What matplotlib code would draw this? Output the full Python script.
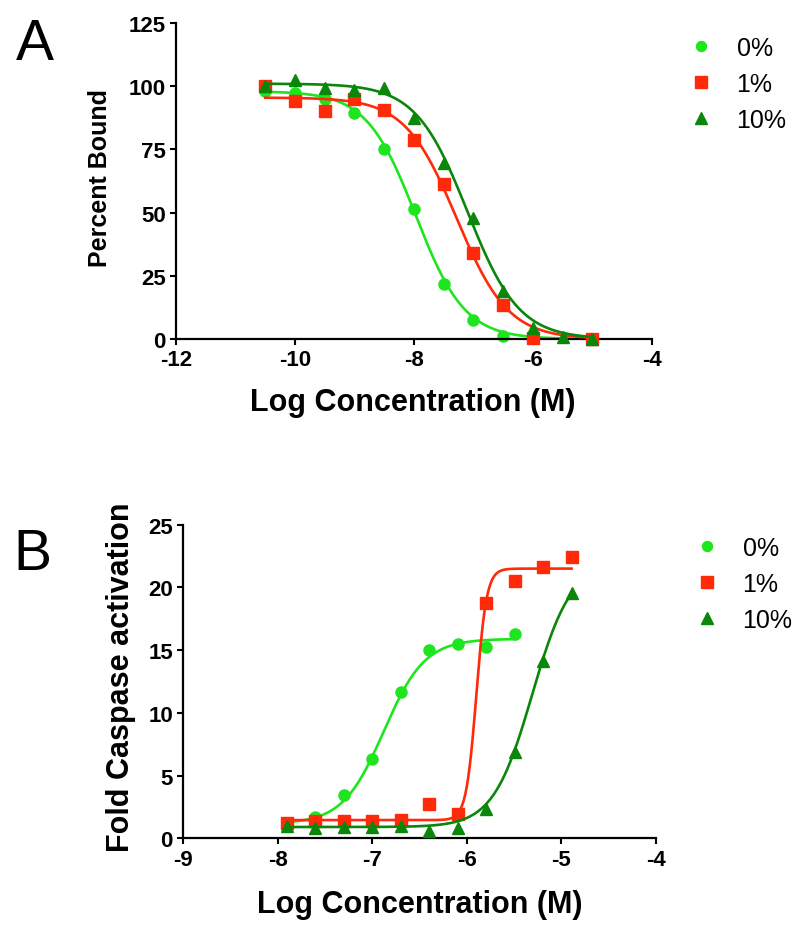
import numpy as np
import matplotlib.pyplot as plt
from matplotlib.lines import Line2D

plt.rcParams['font.family'] = ['Liberation Sans', 'DejaVu Sans']
plt.rcParams['axes.unicode_minus'] = False

labels = ['0%', '1%', '10%']
colors = ['#1EE61E', '#FF2A0A', '#0A870A']
markers = ['o', 's', '^']
msizes = [8.0, 8.8, 9.2]

# Panel A: percent bound vs log concentration
a_x_0 = [-10.5, -10, -9.5, -9, -8.5, -8, -7.5, -7, -6.5, -6, -5]
a_y_0 = [98.0, 97.3, 94.9, 89.3, 75.0, 51.5, 21.7, 7.4, 1.2, 0.2, 0.0]
a_x_1 = [-10.5, -10, -9.5, -9, -8.5, -8, -7.5, -7, -6.5, -6, -5]
a_y_1 = [100.0, 94.0, 90.0, 94.9, 90.4, 78.7, 61.2, 33.9, 13.5, 0.5, 0.0]
a_x_10 = [-10.5, -10, -9.5, -9, -8.5, -8, -7.5, -7, -6.5, -6, -5.5, -5]
a_y_10 = [100.0, 102.6, 99.4, 98.5, 99.1, 87.3, 69.8, 47.7, 18.8, 4.2, 0.9, 0.0]

# fitted sigmoid parameters
a_top = [98.0, 95.5, 101.0]
a_bottom = [0.0, 0.0, 0.0]
a_logec50 = [-7.97, -7.28, -7.10]
a_hill = [-1.05, -1.0, -1.0]

# Panel B: fold caspase activation vs log concentration
b_x = [-7.903, -7.602, -7.301, -7.0, -6.699, -6.398, -6.097, -5.796, -5.495, -5.194, -4.893]
b_y_0 = [1.24, 1.72, 3.49, 6.32, 11.64, 15.05, 15.48, 15.26, 16.32]
b_y_1 = [1.19, 1.38, 1.38, 1.38, 1.46, 2.70, 1.90, 18.76, 20.48, 21.61, 22.41]
b_y_10 = [1.0, 0.85, 0.93, 0.93, 1.0, 0.58, 0.85, 2.35, 6.85, 14.15, 19.55]

b_top = [15.9, 21.5, 22.0]
b_bottom = [1.15, 1.45, 0.9]
b_logec50 = [-6.88, -5.90, -5.31]
b_hill = [2.0, 8.0, 2.1]


def sigmoid(x, top, bottom, logec50, hill):
    return bottom + (top - bottom) / (1 + 10 ** ((logec50 - x) * hill))


def style_axes(ax):
    for side in ['top', 'right']:
        ax.spines[side].set_visible(False)
    for side in ['left', 'bottom']:
        ax.spines[side].set_linewidth(1.6)
    ax.tick_params(direction='out', length=4.5, width=1.5, pad=3, labelsize=16)
    for lab in ax.get_xticklabels() + ax.get_yticklabels():
        lab.set_fontweight('bold')


def draw_panel(ax, xs, ys, tops, bottoms, ec50s, hills):
    for i in range(3):
        xc = np.linspace(min(xs[i]), max(xs[i]), 400)
        yc = sigmoid(xc, tops[i], bottoms[i], ec50s[i], hills[i])
        ax.plot(xc, yc, color=colors[i], lw=1.9, clip_on=False, zorder=2 + i)
        ax.plot(xs[i], ys[i], ls='none', marker=markers[i], ms=msizes[i],
                color=colors[i], mec=colors[i], clip_on=False, zorder=2.5 + i)


def add_legend(fig, left_px, top_px):
    handles = [Line2D([], [], ls='none', marker=markers[i], ms=msizes[i] * 0.9,
                      color=colors[i], mec=colors[i]) for i in range(3)]
    fig.legend(handles, labels, loc='upper left',
               bbox_to_anchor=(left_px / 800, 1 - top_px / 928),
               bbox_transform=fig.transFigure, frameon=False, borderpad=0,
               borderaxespad=0, handlelength=1.0, handletextpad=0.94,
               labelspacing=0.48, fontsize=18)


fig = plt.figure(figsize=(8, 9.28), dpi=100)

# ---- A ----
ax_a = fig.add_axes([176 / 800, 1 - 340 / 928, 475.7 / 800, 316 / 928])
draw_panel(ax_a, [a_x_0, a_x_1, a_x_10], [a_y_0, a_y_1, a_y_10],
           a_top, a_bottom, a_logec50, a_hill)
ax_a.set_xlim(-12, -4)
ax_a.set_ylim(0, 125)
ax_a.set_xticks(np.arange(-12, -3, 2))
ax_a.set_yticks(np.arange(0, 126, 25))
style_axes(ax_a)
fig.text(413 / 800, 1 - 403 / 928, 'Log Concentration (M)', fontsize=22,
         fontweight='bold', ha='center', va='center')
fig.text(100 / 800, 1 - 178 / 928, 'Percent Bound', fontsize=18,
         fontweight='bold', ha='center', va='center', rotation=90)
fig.text(35 / 800, 1 - 45 / 928, 'A', fontsize=41, ha='center', va='center')
add_legend(fig, 688, 37)

# ---- B ----
ax_b = fig.add_axes([183.3 / 800, 1 - 839.3 / 928, 472.7 / 800, 313.6 / 928])
draw_panel(ax_b, [b_x[:len(b_y_0)], b_x, b_x], [b_y_0, b_y_1, b_y_10],
           b_top, b_bottom, b_logec50, b_hill)
ax_b.set_xlim(-9, -4)
ax_b.set_ylim(0, 25)
ax_b.set_xticks(np.arange(-9, -3, 1))
ax_b.set_yticks(np.arange(0, 26, 5))
style_axes(ax_b)
fig.text(420 / 800, 1 - 905 / 928, 'Log Concentration (M)', fontsize=22,
         fontweight='bold', ha='center', va='center')
fig.text(121 / 800, 1 - 677 / 928, 'Fold Caspase activation', fontsize=22,
         fontweight='bold', ha='center', va='center', rotation=90)
fig.text(32 / 800, 1 - 555 / 928, 'B', fontsize=41, ha='center', va='center')
add_legend(fig, 694, 537)

fig.savefig('out.png', dpi=100)
